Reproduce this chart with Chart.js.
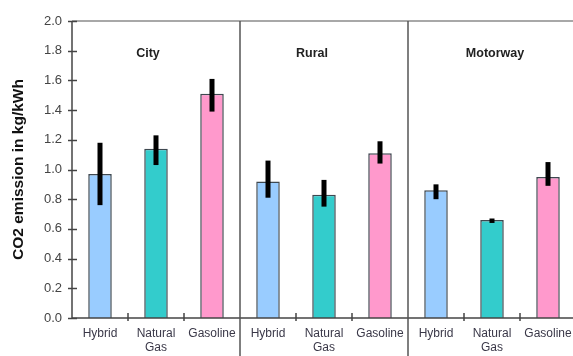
<!DOCTYPE html>
<html>
<head>
<meta charset="utf-8">
<script src="https://cdn.jsdelivr.net/npm/chart.js@4.4.1/dist/chart.umd.min.js"></script>
<style>
  html, body { margin: 0; padding: 0; background: #fff; overflow: hidden; }
  #wrap { position: relative; width: 580px; height: 356px; }
</style>
</head>
<body>
<div id="wrap"><canvas id="c" width="580" height="356"></canvas></div>
<script>
// Driving conditions, each holding one bar per fuel type
const sections = ['City', 'Rural', 'Motorway'];
const fuels = ['Hybrid', ['Natural', 'Gas'], 'Gasoline'];
const fuelColors = ['#99ccff', '#33cccc', '#ff99cc'];

// CO2 emission (kg/kWh), ordered City, Rural, Motorway × Hybrid, Natural Gas, Gasoline
const emission = [0.97, 1.14, 1.51, 0.92, 0.83, 1.11, 0.86, 0.66, 0.95];
const errPlus  = [0.21, 0.09, 0.10, 0.14, 0.10, 0.08, 0.04, 0.01, 0.10];
const errMinus = [0.21, 0.11, 0.12, 0.11, 0.08, 0.07, 0.06, 0.02, 0.06];

const yTicks = [0, 0.2, 0.4, 0.6, 0.8, 1.0, 1.2, 1.4, 1.6, 1.8, 2.0];

const labels = [];
const colors = [];
sections.forEach(() => fuels.forEach((f, i) => { labels.push(f); colors.push(fuelColors[i]); }));

const FONT = '"Liberation Sans", Arial, sans-serif';
// horizontal nudge of each panel title from its panel's middle bar
const titleShift = [-8, -12, 3];

// Error bars, panel dividers, frame lines, tick marks and panel titles
const decor = {
  id: 'decor',
  afterDatasetsDraw(chart) {
    const { ctx, chartArea: a, scales: { x, y } } = chart;
    ctx.save();
    // error bars
    ctx.strokeStyle = '#000';
    ctx.lineWidth = 5;
    ctx.lineCap = 'butt';
    emission.forEach((v, i) => {
      const px = x.getPixelForValue(i);
      ctx.beginPath();
      ctx.moveTo(px, y.getPixelForValue(v + errPlus[i]));
      ctx.lineTo(px, y.getPixelForValue(v - errMinus[i]));
      ctx.stroke();
    });
    // top frame line
    ctx.strokeStyle = '#a8a8a8';
    ctx.lineWidth = 2;
    ctx.beginPath();
    ctx.moveTo(a.left, a.top);
    ctx.lineTo(chart.width, a.top);
    ctx.stroke();
    // y axis line and ticks
    ctx.strokeStyle = '#444';
    ctx.lineWidth = 1.5;
    ctx.beginPath();
    ctx.moveTo(a.left, a.top);
    ctx.lineTo(a.left, a.bottom);
    ctx.stroke();
    yTicks.forEach(t => {
      const py = Math.round(y.getPixelForValue(t)) + 0.5;
      ctx.beginPath();
      ctx.moveTo(a.left - 4, py);
      ctx.lineTo(a.left + 5, py);
      ctx.stroke();
    });
    // x axis line and category boundary ticks
    ctx.beginPath();
    ctx.moveTo(a.left, a.bottom);
    ctx.lineTo(chart.width, a.bottom);
    ctx.stroke();
    for (let i = 1; i < labels.length; i++) {
      if (i % 3 === 0) continue;
      const px = (x.getPixelForValue(i - 1) + x.getPixelForValue(i)) / 2;
      ctx.beginPath();
      ctx.moveTo(px, a.bottom - 5);
      ctx.lineTo(px, a.bottom + 3);
      ctx.stroke();
    }
    // panel dividers
    ctx.strokeStyle = '#555';
    ctx.lineWidth = 1.5;
    for (let s = 1; s < sections.length; s++) {
      const px = (x.getPixelForValue(s * 3 - 1) + x.getPixelForValue(s * 3)) / 2;
      ctx.beginPath();
      ctx.moveTo(px, a.top);
      ctx.lineTo(px, chart.height);
      ctx.stroke();
    }
    // panel titles
    ctx.fillStyle = '#222';
    ctx.font = 'bold 12.5px ' + FONT;
    ctx.textAlign = 'center';
    ctx.textBaseline = 'middle';
    sections.forEach((s, k) => {
      const px = x.getPixelForValue(k * 3 + 1) + titleShift[k];
      ctx.fillText(s, px, y.getPixelForValue(1.78));
    });
    ctx.restore();
  }
};

new Chart(document.getElementById('c'), {
  type: 'bar',
  data: {
    labels: labels,
    datasets: [{
      data: emission,
      backgroundColor: colors,
      borderColor: '#3e4850',
      borderWidth: 1.5,
      categoryPercentage: 1,
      barPercentage: 0.42
    }]
  },
  options: {
    responsive: false,
    animation: false,
    layout: { padding: { top: 21, right: 4, left: 0, bottom: 0 } },
    plugins: { legend: { display: false }, tooltip: { enabled: false } },
    scales: {
      x: {
        grid: { display: false, drawTicks: false },
        border: { display: false },
        ticks: {
          color: '#3a3848',
          font: { family: FONT, size: 12, lineHeight: 1.2 },
          padding: 8,
          maxRotation: 0,
          autoSkip: false
        },
        afterFit(scale) { scale.height = 38; }
      },
      y: {
        min: 0,
        max: 2,
        grid: { display: false, drawTicks: false },
        border: { display: false },
        afterBuildTicks(scale) { scale.ticks = yTicks.map(v => ({ value: v })); },
        ticks: {
          color: '#444',
          font: { family: FONT, size: 13 },
          padding: 10,
          callback: v => v.toFixed(1)
        },
        title: {
          display: true,
          text: 'CO2 emission in kg/kWh',
          color: '#111',
          font: { family: FONT, size: 15.5, weight: 'bold' },
          padding: { top: 9, bottom: 0 }
        },
        afterFit(scale) { scale.width = 72; }
      }
    }
  },
  plugins: [decor]
});
</script>
</body>
</html>
